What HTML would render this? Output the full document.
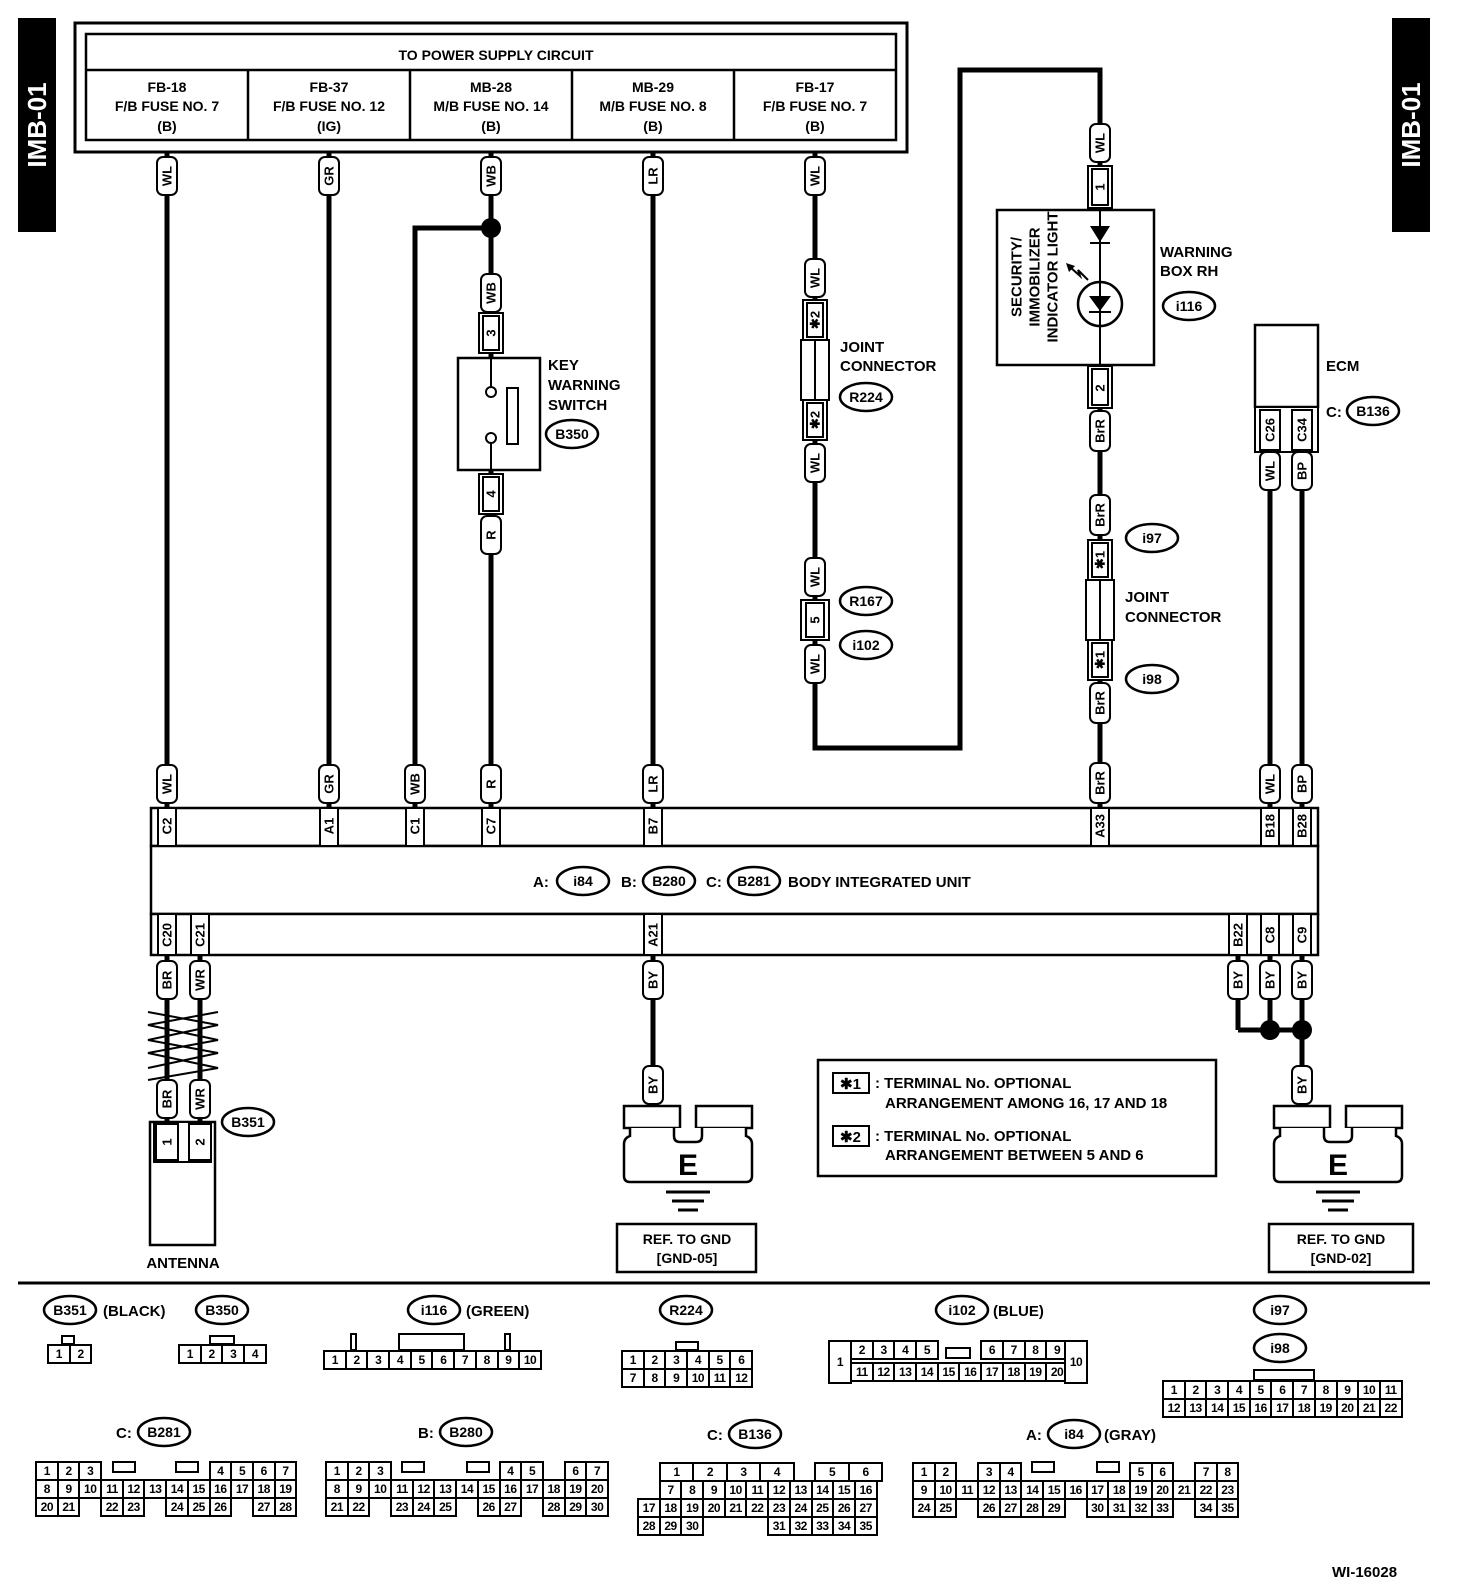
<!DOCTYPE html>
<html><head><meta charset="utf-8">
<style>
html,body{margin:0;padding:0;background:#fff}
body{width:1472px;height:1582px;position:relative;overflow:hidden;font-family:"Liberation Sans",Arial,sans-serif}
svg{position:absolute;left:0;top:0}
svg text{font-family:"Liberation Sans",Arial,sans-serif;font-weight:bold;fill:#000}
.lb{fill:#fff;stroke:#000;stroke-width:2}
.pb{fill:#fff;stroke:#000;stroke-width:2}
.v{font-size:13px;text-anchor:middle;dominant-baseline:central}
.w{fill:none;stroke:#000;stroke-width:5}
.t{position:absolute;font:bold 12px "Liberation Sans",Arial,sans-serif;letter-spacing:-0.5px}
.t div{display:flex;height:20px;margin-bottom:-2px}
.t span{flex:none;width:23.7px;height:20px;border:2px solid #000;margin-right:-2px;box-sizing:border-box;text-align:center;line-height:17px;background:#fff}
.t span.n{border-color:transparent;background:transparent}
.t span.d{width:35.5px}
</style></head><body>
<svg width="1472" height="1582" viewBox="0 0 1472 1582">
<!-- side tabs -->
<rect x="18" y="18" width="38" height="214" fill="#000"/>
<text transform="translate(37,125) rotate(-90)" text-anchor="middle" dominant-baseline="central" style="font-size:26px;fill:#fff">IMB-01</text>
<rect x="1392" y="18" width="38" height="214" fill="#000"/>
<text transform="translate(1411,125) rotate(-90)" text-anchor="middle" dominant-baseline="central" style="font-size:26px;fill:#fff">IMB-01</text>

<!-- power supply box -->
<rect x="75" y="23" width="832" height="129" fill="none" stroke="#000" stroke-width="3"/>
<rect x="86" y="34" width="810" height="106" fill="none" stroke="#000" stroke-width="2.5"/>
<line x1="86" y1="70" x2="896" y2="70" stroke="#000" stroke-width="2.5"/>
<g stroke="#000" stroke-width="2.5"><line x1="248" y1="70" x2="248" y2="140"/><line x1="410" y1="70" x2="410" y2="140"/><line x1="572" y1="70" x2="572" y2="140"/><line x1="734" y1="70" x2="734" y2="140"/></g>
<g style="font-size:14px" text-anchor="middle">
<text x="496" y="60">TO POWER SUPPLY CIRCUIT</text>
<text x="167" y="92">FB-18</text><text x="167" y="111">F/B FUSE NO. 7</text><text x="167" y="131">(B)</text>
<text x="329" y="92">FB-37</text><text x="329" y="111">F/B FUSE NO. 12</text><text x="329" y="131">(IG)</text>
<text x="491" y="92">MB-28</text><text x="491" y="111">M/B FUSE NO. 14</text><text x="491" y="131">(B)</text>
<text x="653" y="92">MB-29</text><text x="653" y="111">M/B FUSE NO. 8</text><text x="653" y="131">(B)</text>
<text x="815" y="92">FB-17</text><text x="815" y="111">F/B FUSE NO. 7</text><text x="815" y="131">(B)</text>
</g>

<!-- wires -->
<g class="w">
<line x1="167" y1="152" x2="167" y2="808"/>
<line x1="329" y1="152" x2="329" y2="808"/>
<line x1="491" y1="152" x2="491" y2="808"/>
<line x1="653" y1="152" x2="653" y2="808"/>
<polyline points="415,808 415,228 491,228"/>
<polyline points="815,152 815,748 960,748 960,70 1100,70 1100,808"/>
<line x1="1270" y1="450" x2="1270" y2="808"/>
<line x1="1302" y1="450" x2="1302" y2="808"/>
<line x1="167" y1="955" x2="167" y2="1122"/>
<line x1="200" y1="955" x2="200" y2="1122"/>
<line x1="653" y1="955" x2="653" y2="1106"/>
<line x1="1238" y1="955" x2="1238" y2="1030"/>
<line x1="1270" y1="955" x2="1270" y2="1030"/>
<polyline points="1238,1030 1302,1030"/>
<line x1="1302" y1="955" x2="1302" y2="1106"/>
</g>
<circle cx="491" cy="228" r="10" fill="#000"/>
<circle cx="1270" cy="1030" r="10" fill="#000"/>
<circle cx="1302" cy="1030" r="10" fill="#000"/>

<!-- twisted pair -->
<g stroke="#000" stroke-width="2" fill="none">
<polyline points="218,1012 148,1025 218,1040 148,1053 218,1068 148,1080"/>
<polyline points="148,1012 218,1025 148,1040 218,1053 148,1068"/>
</g>

<!-- key warning switch -->
<rect x="458" y="358" width="82" height="112" fill="#fff" stroke="#000" stroke-width="2.5"/>
<line x1="491" y1="358" x2="491" y2="387" stroke="#000" stroke-width="2"/>
<line x1="491" y1="443" x2="491" y2="470" stroke="#000" stroke-width="2"/>
<circle cx="491" cy="392" r="5" fill="#fff" stroke="#000" stroke-width="2"/>
<circle cx="491" cy="438" r="5" fill="#fff" stroke="#000" stroke-width="2"/>
<rect x="507" y="388" width="11" height="56" fill="#fff" stroke="#000" stroke-width="2"/>
<g style="font-size:15px"><text x="548" y="370">KEY</text><text x="548" y="390">WARNING</text><text x="548" y="410">SWITCH</text></g>

<!-- joint connector R224 -->
<g stroke="#000" stroke-width="2" fill="#fff">
<rect x="801" y="340" width="28" height="60"/>
<line x1="815" y1="340" x2="815" y2="400"/>
</g>
<g style="font-size:15px"><text x="840" y="352">JOINT</text><text x="840" y="371">CONNECTOR</text></g>

<!-- warning box i116 -->
<rect x="997" y="210" width="157" height="155" fill="#fff" stroke="#000" stroke-width="2.5"/>
<line x1="1100" y1="210" x2="1100" y2="365" stroke="#000" stroke-width="2"/>
<polygon points="1090,226 1110,226 1100,242" fill="#000"/>
<line x1="1090" y1="243" x2="1110" y2="243" stroke="#000" stroke-width="2"/>
<circle cx="1100" cy="304" r="22" fill="#fff" stroke="#000" stroke-width="2.5"/>
<line x1="1100" y1="282" x2="1100" y2="326" stroke="#000" stroke-width="2"/>
<polygon points="1089,296 1111,296 1100,311" fill="#000"/>
<line x1="1089" y1="312" x2="1111" y2="312" stroke="#000" stroke-width="2"/>
<polyline points="1070,267 1080,276 1078,270 1088,280" fill="none" stroke="#000" stroke-width="2"/>
<polygon points="1066,263 1075,266 1069,272" fill="#000"/>
<g style="font-size:15px" text-anchor="middle">
<text transform="translate(1017,277) rotate(-90)" dominant-baseline="central">SECURITY/</text>
<text transform="translate(1035,277) rotate(-90)" dominant-baseline="central">IMMOBILIZER</text>
<text transform="translate(1053,277) rotate(-90)" dominant-baseline="central">INDICATOR LIGHT</text>
</g>
<g style="font-size:15px"><text x="1160" y="257">WARNING</text><text x="1160" y="276">BOX RH</text></g>

<!-- joint i97/i98 -->
<g stroke="#000" stroke-width="2" fill="#fff">
<rect x="1086" y="580" width="28" height="60"/>
<line x1="1100" y1="580" x2="1100" y2="640"/>
</g>
<g style="font-size:15px"><text x="1125" y="602">JOINT</text><text x="1125" y="622">CONNECTOR</text></g>

<!-- ECM -->
<rect x="1255" y="325" width="63" height="82" fill="#fff" stroke="#000" stroke-width="2.5"/>
<rect x="1255" y="407" width="63" height="45" fill="#fff" stroke="#000" stroke-width="2"/>
<text x="1326" y="371" style="font-size:15px">ECM</text>
<text x="1326" y="417" style="font-size:15px">C:</text>

<!-- body integrated unit -->
<rect x="151" y="808" width="1167" height="38" fill="#fff" stroke="#000" stroke-width="2.5"/>
<rect x="151" y="846" width="1167" height="68" fill="#fff" stroke="#000" stroke-width="2.5"/>
<rect x="151" y="914" width="1167" height="41" fill="#fff" stroke="#000" stroke-width="2.5"/>
<g style="font-size:15px"><text x="533" y="887">A:</text><text x="621" y="887">B:</text><text x="706" y="887">C:</text><text x="788" y="887">BODY INTEGRATED UNIT</text></g>

<!-- ground left -->
<g stroke="#000" stroke-width="2.5" fill="#fff">
<rect x="624" y="1106" width="56" height="22"/>
<rect x="696" y="1106" width="56" height="22"/>
<path d="M630,1128 v8 q-6,2 -6,8 v32 q0,6 6,6 h116 q6,0 6,-6 v-32 q0,-6 -6,-8 v-8 M674,1128 v8 q0,6 6,6 h16 q6,0 6,-6 v-8"/>
</g>
<text x="688" y="1175" text-anchor="middle" style="font-size:30px">E</text>
<g stroke="#000" stroke-width="3"><line x1="666" y1="1192" x2="710" y2="1192"/><line x1="672" y1="1201" x2="704" y2="1201"/><line x1="678" y1="1210" x2="698" y2="1210"/></g>
<rect x="617" y="1224" width="139" height="48" fill="#fff" stroke="#000" stroke-width="2.5"/>
<g style="font-size:14px" text-anchor="middle"><text x="687" y="1244">REF. TO GND</text><text x="687" y="1263">[GND-05]</text></g>

<!-- ground right -->
<g stroke="#000" stroke-width="2.5" fill="#fff">
<rect x="1274" y="1106" width="56" height="22"/>
<rect x="1346" y="1106" width="56" height="22"/>
<path d="M1280,1128 v8 q-6,2 -6,8 v32 q0,6 6,6 h116 q6,0 6,-6 v-32 q0,-6 -6,-8 v-8 M1324,1128 v8 q0,6 6,6 h16 q6,0 6,-6 v-8"/>
</g>
<text x="1338" y="1175" text-anchor="middle" style="font-size:30px">E</text>
<g stroke="#000" stroke-width="3"><line x1="1316" y1="1192" x2="1360" y2="1192"/><line x1="1322" y1="1201" x2="1354" y2="1201"/><line x1="1328" y1="1210" x2="1348" y2="1210"/></g>
<rect x="1269" y="1224" width="144" height="48" fill="#fff" stroke="#000" stroke-width="2.5"/>
<g style="font-size:14px" text-anchor="middle"><text x="1341" y="1244">REF. TO GND</text><text x="1341" y="1263">[GND-02]</text></g>

<!-- antenna -->
<rect x="150" y="1122" width="65" height="123" fill="#fff" stroke="#000" stroke-width="2.5"/>
<rect x="154" y="1122" width="57" height="40" fill="#fff" stroke="#000" stroke-width="2"/>
<rect x="156" y="1124" width="22" height="36" fill="#fff" stroke="#000" stroke-width="2"/>
<rect x="189" y="1124" width="22" height="36" fill="#fff" stroke="#000" stroke-width="2"/>
<text class="v" transform="translate(167,1142) rotate(-90)">1</text>
<text class="v" transform="translate(200,1142) rotate(-90)">2</text>
<text x="183" y="1268" text-anchor="middle" style="font-size:15px">ANTENNA</text>

<!-- legend -->
<rect x="818" y="1060" width="398" height="116" fill="#fff" stroke="#000" stroke-width="2.5"/>
<rect x="833" y="1073" width="36" height="20" fill="#fff" stroke="#000" stroke-width="2"/>
<rect x="833" y="1126" width="36" height="20" fill="#fff" stroke="#000" stroke-width="2"/>
<g style="font-size:15px">
<text x="840" y="1089">✱1</text><text x="840" y="1142">✱2</text>
<text x="875" y="1088">: TERMINAL No. OPTIONAL</text>
<text x="885" y="1108">ARRANGEMENT AMONG 16, 17  AND 18</text>
<text x="875" y="1141">: TERMINAL No. OPTIONAL</text>
<text x="885" y="1160">ARRANGEMENT BETWEEN 5  AND 6</text>
</g>

<!-- separator -->
<line x1="18" y1="1283" x2="1430" y2="1283" stroke="#000" stroke-width="3"/>

<!-- pin boxes -->
<g>
<rect class="pb" x="479" y="313" width="24" height="40"/><rect class="pb" x="483" y="316" width="16" height="34"/><text class="v" transform="translate(491,333) rotate(-90)">3</text>
<rect class="pb" x="479" y="474" width="24" height="40"/><rect class="pb" x="483" y="477" width="16" height="34"/><text class="v" transform="translate(491,494) rotate(-90)">4</text>
<rect class="pb" x="803" y="300" width="24" height="40"/><rect class="pb" x="807" y="303" width="16" height="34"/><text class="v" transform="translate(815,320) rotate(-90)">✱2</text>
<rect class="pb" x="803" y="400" width="24" height="40"/><rect class="pb" x="807" y="403" width="16" height="34"/><text class="v" transform="translate(815,420) rotate(-90)">✱2</text>
<rect class="pb" x="801" y="600" width="28" height="40"/><rect class="pb" x="806" y="603" width="18" height="34"/><text class="v" transform="translate(815,620) rotate(-90)">5</text>
<rect class="pb" x="1088" y="166" width="24" height="42"/><rect class="pb" x="1092" y="169" width="16" height="36"/><text class="v" transform="translate(1100,187) rotate(-90)">1</text>
<rect class="pb" x="1088" y="366" width="24" height="42"/><rect class="pb" x="1092" y="369" width="16" height="36"/><text class="v" transform="translate(1100,388) rotate(-90)">2</text>
<rect class="pb" x="1088" y="540" width="24" height="40"/><rect class="pb" x="1092" y="543" width="16" height="34"/><text class="v" transform="translate(1100,560) rotate(-90)">✱1</text>
<rect class="pb" x="1088" y="640" width="24" height="40"/><rect class="pb" x="1092" y="643" width="16" height="34"/><text class="v" transform="translate(1100,660) rotate(-90)">✱1</text>
<rect class="pb" x="1260" y="410" width="20" height="40"/><text class="v" transform="translate(1270,430) rotate(-90)">C26</text>
<rect class="pb" x="1292" y="410" width="20" height="40"/><text class="v" transform="translate(1302,430) rotate(-90)">C34</text>
</g>

<!-- unit pin labels -->
<g>
<rect class="pb" x="158" y="808" width="18" height="38"/><text class="v" transform="translate(167,826) rotate(-90)">C2</text>
<rect class="pb" x="320" y="808" width="18" height="38"/><text class="v" transform="translate(329,826) rotate(-90)">A1</text>
<rect class="pb" x="406" y="808" width="18" height="38"/><text class="v" transform="translate(415,826) rotate(-90)">C1</text>
<rect class="pb" x="482" y="808" width="18" height="38"/><text class="v" transform="translate(491,826) rotate(-90)">C7</text>
<rect class="pb" x="644" y="808" width="18" height="38"/><text class="v" transform="translate(653,826) rotate(-90)">B7</text>
<rect class="pb" x="1091" y="808" width="18" height="38"/><text class="v" transform="translate(1100,826) rotate(-90)">A33</text>
<rect class="pb" x="1261" y="808" width="18" height="38"/><text class="v" transform="translate(1270,826) rotate(-90)">B18</text>
<rect class="pb" x="1293" y="808" width="18" height="38"/><text class="v" transform="translate(1302,826) rotate(-90)">B28</text>
<rect class="pb" x="158" y="914" width="18" height="41"/><text class="v" transform="translate(167,935) rotate(-90)">C20</text>
<rect class="pb" x="191" y="914" width="18" height="41"/><text class="v" transform="translate(200,935) rotate(-90)">C21</text>
<rect class="pb" x="644" y="914" width="18" height="41"/><text class="v" transform="translate(653,935) rotate(-90)">A21</text>
<rect class="pb" x="1229" y="914" width="18" height="41"/><text class="v" transform="translate(1238,935) rotate(-90)">B22</text>
<rect class="pb" x="1261" y="914" width="18" height="41"/><text class="v" transform="translate(1270,935) rotate(-90)">C8</text>
<rect class="pb" x="1293" y="914" width="18" height="41"/><text class="v" transform="translate(1302,935) rotate(-90)">C9</text>
</g>

<!-- wire color labels -->
<g>
<rect class="lb" x="157" y="157" width="20" height="38" rx="6"/><text class="v" transform="translate(167,176) rotate(-90)">WL</text>
<rect class="lb" x="319" y="157" width="20" height="38" rx="6"/><text class="v" transform="translate(329,176) rotate(-90)">GR</text>
<rect class="lb" x="481" y="157" width="20" height="38" rx="6"/><text class="v" transform="translate(491,176) rotate(-90)">WB</text>
<rect class="lb" x="643" y="157" width="20" height="38" rx="6"/><text class="v" transform="translate(653,176) rotate(-90)">LR</text>
<rect class="lb" x="805" y="157" width="20" height="38" rx="6"/><text class="v" transform="translate(815,176) rotate(-90)">WL</text>
<rect class="lb" x="481" y="274" width="20" height="38" rx="6"/><text class="v" transform="translate(491,293) rotate(-90)">WB</text>
<rect class="lb" x="481" y="516" width="20" height="38" rx="6"/><text class="v" transform="translate(491,535) rotate(-90)">R</text>
<rect class="lb" x="805" y="259" width="20" height="38" rx="6"/><text class="v" transform="translate(815,278) rotate(-90)">WL</text>
<rect class="lb" x="805" y="444" width="20" height="38" rx="6"/><text class="v" transform="translate(815,463) rotate(-90)">WL</text>
<rect class="lb" x="805" y="558" width="20" height="38" rx="6"/><text class="v" transform="translate(815,577) rotate(-90)">WL</text>
<rect class="lb" x="805" y="645" width="20" height="38" rx="6"/><text class="v" transform="translate(815,664) rotate(-90)">WL</text>
<rect class="lb" x="1090" y="124" width="20" height="38" rx="6"/><text class="v" transform="translate(1100,143) rotate(-90)">WL</text>
<rect class="lb" x="1090" y="411" width="20" height="40" rx="6"/><text class="v" transform="translate(1100,431) rotate(-90)">BrR</text>
<rect class="lb" x="1090" y="495" width="20" height="40" rx="6"/><text class="v" transform="translate(1100,515) rotate(-90)">BrR</text>
<rect class="lb" x="1090" y="683" width="20" height="40" rx="6"/><text class="v" transform="translate(1100,703) rotate(-90)">BrR</text>
<rect class="lb" x="1260" y="452" width="20" height="38" rx="6"/><text class="v" transform="translate(1270,471) rotate(-90)">WL</text>
<rect class="lb" x="1292" y="452" width="20" height="38" rx="6"/><text class="v" transform="translate(1302,471) rotate(-90)">BP</text>
<rect class="lb" x="157" y="765" width="20" height="38" rx="6"/><text class="v" transform="translate(167,784) rotate(-90)">WL</text>
<rect class="lb" x="319" y="765" width="20" height="38" rx="6"/><text class="v" transform="translate(329,784) rotate(-90)">GR</text>
<rect class="lb" x="405" y="765" width="20" height="38" rx="6"/><text class="v" transform="translate(415,784) rotate(-90)">WB</text>
<rect class="lb" x="481" y="765" width="20" height="38" rx="6"/><text class="v" transform="translate(491,784) rotate(-90)">R</text>
<rect class="lb" x="643" y="765" width="20" height="38" rx="6"/><text class="v" transform="translate(653,784) rotate(-90)">LR</text>
<rect class="lb" x="1090" y="763" width="20" height="40" rx="6"/><text class="v" transform="translate(1100,783) rotate(-90)">BrR</text>
<rect class="lb" x="1260" y="765" width="20" height="38" rx="6"/><text class="v" transform="translate(1270,784) rotate(-90)">WL</text>
<rect class="lb" x="1292" y="765" width="20" height="38" rx="6"/><text class="v" transform="translate(1302,784) rotate(-90)">BP</text>
<rect class="lb" x="157" y="961" width="20" height="38" rx="6"/><text class="v" transform="translate(167,980) rotate(-90)">BR</text>
<rect class="lb" x="190" y="961" width="20" height="38" rx="6"/><text class="v" transform="translate(200,980) rotate(-90)">WR</text>
<rect class="lb" x="643" y="961" width="20" height="38" rx="6"/><text class="v" transform="translate(653,980) rotate(-90)">BY</text>
<rect class="lb" x="1228" y="961" width="20" height="38" rx="6"/><text class="v" transform="translate(1238,980) rotate(-90)">BY</text>
<rect class="lb" x="1260" y="961" width="20" height="38" rx="6"/><text class="v" transform="translate(1270,980) rotate(-90)">BY</text>
<rect class="lb" x="1292" y="961" width="20" height="38" rx="6"/><text class="v" transform="translate(1302,980) rotate(-90)">BY</text>
<rect class="lb" x="157" y="1080" width="20" height="38" rx="6"/><text class="v" transform="translate(167,1099) rotate(-90)">BR</text>
<rect class="lb" x="190" y="1080" width="20" height="38" rx="6"/><text class="v" transform="translate(200,1099) rotate(-90)">WR</text>
<rect class="lb" x="643" y="1066" width="20" height="38" rx="6"/><text class="v" transform="translate(653,1085) rotate(-90)">BY</text>
<rect class="lb" x="1292" y="1066" width="20" height="38" rx="6"/><text class="v" transform="translate(1302,1085) rotate(-90)">BY</text>
</g>

<!-- ellipse tags -->
<g style="font-size:14px" text-anchor="middle" dominant-baseline="central">
<ellipse cx="572" cy="434" rx="26" ry="14" fill="#fff" stroke="#000" stroke-width="2.5"/><text x="572" y="434">B350</text>
<ellipse cx="866" cy="397" rx="26" ry="14" fill="#fff" stroke="#000" stroke-width="2.5"/><text x="866" y="397">R224</text>
<ellipse cx="866" cy="601" rx="26" ry="14" fill="#fff" stroke="#000" stroke-width="2.5"/><text x="866" y="601">R167</text>
<ellipse cx="866" cy="645" rx="26" ry="14" fill="#fff" stroke="#000" stroke-width="2.5"/><text x="866" y="645">i102</text>
<ellipse cx="1189" cy="306" rx="26" ry="14" fill="#fff" stroke="#000" stroke-width="2.5"/><text x="1189" y="306">i116</text>
<ellipse cx="1152" cy="538" rx="26" ry="14" fill="#fff" stroke="#000" stroke-width="2.5"/><text x="1152" y="538">i97</text>
<ellipse cx="1152" cy="679" rx="26" ry="14" fill="#fff" stroke="#000" stroke-width="2.5"/><text x="1152" y="679">i98</text>
<ellipse cx="1373" cy="411" rx="26" ry="14" fill="#fff" stroke="#000" stroke-width="2.5"/><text x="1373" y="411">B136</text>
<ellipse cx="583" cy="881" rx="26" ry="14" fill="#fff" stroke="#000" stroke-width="2.5"/><text x="583" y="881">i84</text>
<ellipse cx="669" cy="881" rx="26" ry="14" fill="#fff" stroke="#000" stroke-width="2.5"/><text x="669" y="881">B280</text>
<ellipse cx="754" cy="881" rx="26" ry="14" fill="#fff" stroke="#000" stroke-width="2.5"/><text x="754" y="881">B281</text>
<ellipse cx="248" cy="1122" rx="26" ry="14" fill="#fff" stroke="#000" stroke-width="2.5"/><text x="248" y="1122">B351</text>
<ellipse cx="70" cy="1310" rx="26" ry="14" fill="#fff" stroke="#000" stroke-width="2.5"/><text x="70" y="1310">B351</text>
<ellipse cx="222" cy="1310" rx="26" ry="14" fill="#fff" stroke="#000" stroke-width="2.5"/><text x="222" y="1310">B350</text>
<ellipse cx="434" cy="1310" rx="26" ry="14" fill="#fff" stroke="#000" stroke-width="2.5"/><text x="434" y="1310">i116</text>
<ellipse cx="686" cy="1310" rx="26" ry="14" fill="#fff" stroke="#000" stroke-width="2.5"/><text x="686" y="1310">R224</text>
<ellipse cx="962" cy="1310" rx="26" ry="14" fill="#fff" stroke="#000" stroke-width="2.5"/><text x="962" y="1310">i102</text>
<ellipse cx="1280" cy="1310" rx="26" ry="14" fill="#fff" stroke="#000" stroke-width="2.5"/><text x="1280" y="1310">i97</text>
<ellipse cx="1280" cy="1348" rx="26" ry="14" fill="#fff" stroke="#000" stroke-width="2.5"/><text x="1280" y="1348">i98</text>
<ellipse cx="164" cy="1432" rx="26" ry="14" fill="#fff" stroke="#000" stroke-width="2.5"/><text x="164" y="1432">B281</text>
<ellipse cx="466" cy="1432" rx="26" ry="14" fill="#fff" stroke="#000" stroke-width="2.5"/><text x="466" y="1432">B280</text>
<ellipse cx="755" cy="1434" rx="26" ry="14" fill="#fff" stroke="#000" stroke-width="2.5"/><text x="755" y="1434">B136</text>
<ellipse cx="1074" cy="1434" rx="26" ry="14" fill="#fff" stroke="#000" stroke-width="2.5"/><text x="1074" y="1434">i84</text>
</g>
<g style="font-size:15px">
<text x="103" y="1316">(BLACK)</text><text x="466" y="1316">(GREEN)</text><text x="993" y="1316">(BLUE)</text>
<text x="116" y="1438">C:</text><text x="418" y="1438">B:</text><text x="707" y="1440">C:</text><text x="1026" y="1440">A:</text><text x="1104" y="1440">(GRAY)</text>
<text x="1332" y="1577">WI-16028</text>
</g>
<!-- tabs on connector tables -->
<g fill="#fff" stroke="#000" stroke-width="2">
<rect x="62" y="1336" width="12" height="8"/>
<rect x="210" y="1336" width="24" height="8"/>
<rect x="351" y="1334" width="5" height="16"/><rect x="399" y="1334" width="65" height="16"/><rect x="505" y="1334" width="5" height="16"/>
<rect x="676" y="1342" width="22" height="8"/>
<rect x="946" y="1348" width="24" height="10"/>
<rect x="1254" y="1370" width="60" height="10"/>
<rect x="113" y="1462" width="22" height="10"/><rect x="176" y="1462" width="22" height="10"/>
<rect x="402" y="1462" width="22" height="10"/><rect x="467" y="1462" width="22" height="10"/>
<rect x="1032" y="1462" width="22" height="10"/><rect x="1097" y="1462" width="22" height="10"/>
</g>
</svg>

<!-- connector tables -->
<div class="t" style="left:47px;top:1344px"><div><span>1</span><span>2</span></div></div>
<div class="t" style="left:178px;top:1344px"><div><span>1</span><span>2</span><span>3</span><span>4</span></div></div>
<div class="t" style="left:323px;top:1350px"><div><span>1</span><span>2</span><span>3</span><span>4</span><span>5</span><span>6</span><span>7</span><span>8</span><span>9</span><span>10</span></div></div>
<div class="t" style="left:621px;top:1350px"><div><span>1</span><span>2</span><span>3</span><span>4</span><span>5</span><span>6</span></div><div><span>7</span><span>8</span><span>9</span><span>10</span><span>11</span><span>12</span></div></div>
<div class="t" style="left:828px;top:1340px">
<div style="position:absolute;left:0;top:0"><span style="height:44px;width:24px;line-height:40px">1</span></div>
<div style="position:absolute;left:22px;top:0"><span>2</span><span>3</span><span>4</span><span>5</span><span class="n"></span><span class="n"></span><span>6</span><span>7</span><span>8</span><span>9</span></div>
<div style="position:absolute;left:22px;top:22px"><span>11</span><span>12</span><span>13</span><span>14</span><span>15</span><span>16</span><span>17</span><span>18</span><span>19</span><span>20</span></div>
<div style="position:absolute;left:236px;top:0"><span style="height:44px;width:24px;line-height:40px">10</span></div>
</div>
<div class="t" style="left:1162px;top:1380px"><div><span>1</span><span>2</span><span>3</span><span>4</span><span>5</span><span>6</span><span>7</span><span>8</span><span>9</span><span>10</span><span>11</span></div><div><span>12</span><span>13</span><span>14</span><span>15</span><span>16</span><span>17</span><span>18</span><span>19</span><span>20</span><span>21</span><span>22</span></div></div>
<div class="t" style="left:35px;top:1461px">
<div><span>1</span><span>2</span><span>3</span><span class="n"></span><span class="n"></span><span class="n"></span><span class="n"></span><span class="n"></span><span>4</span><span>5</span><span>6</span><span>7</span></div>
<div><span>8</span><span>9</span><span>10</span><span>11</span><span>12</span><span>13</span><span>14</span><span>15</span><span>16</span><span>17</span><span>18</span><span>19</span></div>
<div><span>20</span><span>21</span><span class="n"></span><span>22</span><span>23</span><span class="n"></span><span>24</span><span>25</span><span>26</span><span class="n"></span><span>27</span><span>28</span></div></div>
<div class="t" style="left:325px;top:1461px">
<div><span>1</span><span>2</span><span>3</span><span class="n"></span><span class="n"></span><span class="n"></span><span class="n"></span><span class="n"></span><span>4</span><span>5</span><span class="n"></span><span>6</span><span>7</span></div>
<div><span>8</span><span>9</span><span>10</span><span>11</span><span>12</span><span>13</span><span>14</span><span>15</span><span>16</span><span>17</span><span>18</span><span>19</span><span>20</span></div>
<div><span>21</span><span>22</span><span class="n"></span><span>23</span><span>24</span><span>25</span><span class="n"></span><span>26</span><span>27</span><span class="n"></span><span>28</span><span>29</span><span>30</span></div></div>
<div class="t" style="left:637px;top:1462px">
<div><span class="n"></span><span class="d">1</span><span class="d">2</span><span class="d">3</span><span class="d">4</span><span class="n"></span><span class="d">5</span><span class="d">6</span></div>
<div><span class="n"></span><span>7</span><span>8</span><span>9</span><span>10</span><span>11</span><span>12</span><span>13</span><span>14</span><span>15</span><span>16</span></div>
<div><span>17</span><span>18</span><span>19</span><span>20</span><span>21</span><span>22</span><span>23</span><span>24</span><span>25</span><span>26</span><span>27</span></div>
<div><span>28</span><span>29</span><span>30</span><span class="n"></span><span class="n"></span><span class="n"></span><span>31</span><span>32</span><span>33</span><span>34</span><span>35</span></div></div>
<div class="t" style="left:912px;top:1462px">
<div><span>1</span><span>2</span><span class="n"></span><span>3</span><span>4</span><span class="n"></span><span class="n"></span><span class="n"></span><span class="n"></span><span class="n"></span><span>5</span><span>6</span><span class="n"></span><span>7</span><span>8</span></div>
<div><span>9</span><span>10</span><span>11</span><span>12</span><span>13</span><span>14</span><span>15</span><span>16</span><span>17</span><span>18</span><span>19</span><span>20</span><span>21</span><span>22</span><span>23</span></div>
<div><span>24</span><span>25</span><span class="n"></span><span>26</span><span>27</span><span>28</span><span>29</span><span class="n"></span><span>30</span><span>31</span><span>32</span><span>33</span><span class="n"></span><span>34</span><span>35</span></div></div>
</body></html>
